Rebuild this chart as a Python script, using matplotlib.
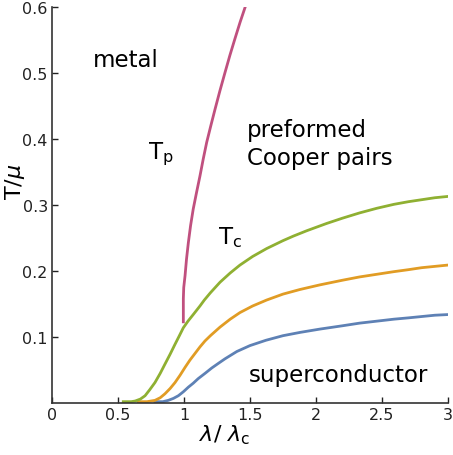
import matplotlib
matplotlib.use('Agg')
import matplotlib.pyplot as plt

# Tc curves (lambda/lambda_c, T/mu)
green_x = [0.54, 0.60, 0.63, 0.67, 0.705, 0.74, 0.78, 0.82, 0.856, 0.895, 0.932, 0.965, 0.995, 1.03, 1.07,
           1.121, 1.154, 1.20, 1.273, 1.35, 1.424, 1.52, 1.626, 1.75, 1.83, 1.93, 2.08, 2.2, 2.33, 2.46,
           2.59, 2.7, 2.8, 2.9, 3.0]
green_y = [0.002, 0.002, 0.003, 0.006, 0.011, 0.020, 0.031, 0.045, 0.059, 0.074, 0.089, 0.102, 0.114, 0.124, 0.134,
           0.147, 0.156, 0.167, 0.183, 0.197, 0.209, 0.222, 0.234, 0.246, 0.253, 0.261, 0.272, 0.280, 0.288, 0.295,
           0.301, 0.305, 0.308, 0.311, 0.313]

orange_x = [0.654, 0.72, 0.78, 0.82, 0.856, 0.895, 0.932, 0.97, 1.008, 1.045, 1.083, 1.121, 1.159, 1.20, 1.273,
            1.35, 1.424, 1.52, 1.626, 1.75, 1.879, 2.03, 2.2, 2.33, 2.46, 2.59, 2.7, 2.8, 2.9, 3.0]
orange_y = [0.002, 0.002, 0.004, 0.008, 0.014, 0.022, 0.031, 0.042, 0.054, 0.065, 0.075, 0.085, 0.094, 0.102, 0.115,
            0.127, 0.137, 0.147, 0.156, 0.165, 0.172, 0.179, 0.186, 0.191, 0.195, 0.199, 0.202, 0.205, 0.207, 0.209]

blue_x = [0.78, 0.84, 0.881, 0.92, 0.957, 0.995, 1.033, 1.07, 1.108, 1.16, 1.21, 1.26, 1.311, 1.40, 1.5,
          1.62, 1.75, 1.88, 2.03, 2.2, 2.33, 2.46, 2.59, 2.7, 2.8, 2.9, 3.0]
blue_y = [0.002, 0.002, 0.004, 0.007, 0.011, 0.017, 0.024, 0.030, 0.037, 0.045, 0.053, 0.060, 0.067, 0.078, 0.087,
          0.095, 0.102, 0.107, 0.112, 0.117, 0.121, 0.124, 0.127, 0.129, 0.131, 0.133, 0.134]

# pair formation temperature Tp
tp_x = [0.995, 0.995, 0.998, 1.008, 1.019, 1.033, 1.05, 1.07, 1.095, 1.121, 1.146, 1.172, 1.203, 1.235,
        1.272, 1.311, 1.348, 1.386, 1.425, 1.467]
tp_y = [0.123, 0.158, 0.175, 0.193, 0.218, 0.243, 0.269, 0.294, 0.319, 0.344, 0.370, 0.395, 0.420, 0.445,
        0.473, 0.501, 0.527, 0.552, 0.577, 0.602]

xticks = [0, 0.5, 1, 1.5, 2, 2.5, 3]
xticklabels = ['0', '0.5', '1', '1.5', '2', '2.5', '3']
yticks = [0.1, 0.2, 0.3, 0.4, 0.5, 0.6]
yticklabels = ['0.1', '0.2', '0.3', '0.4', '0.5', '0.6']

fig = plt.figure(figsize=(4.53, 4.56), dpi=100)
ax = fig.add_axes([52/453, 52/456, 396/453, 396/456])

ax.plot(blue_x, blue_y, color='#5e81b5', lw=2, solid_joinstyle='round')
ax.plot(orange_x, orange_y, color='#e19c24', lw=2, solid_joinstyle='round')
ax.plot(green_x, green_y, color='#8fb032', lw=2, solid_joinstyle='round')
ax.plot(tp_x, tp_y, color='#c0507f', lw=2, solid_joinstyle='round')

ax.set_xlim(0, 3)
ax.set_ylim(0, 0.6)
ax.set_xticks(xticks)
ax.set_xticklabels(xticklabels)
ax.set_yticks(yticks)
ax.set_yticklabels(yticklabels)
ax.tick_params(direction='in', length=4, width=1, labelsize=11.5, colors='#222222', pad=3)
for s in ['top', 'right']:
    ax.spines[s].set_visible(False)
for s in ['left', 'bottom']:
    ax.spines[s].set_color('#333333')
    ax.spines[s].set_linewidth(1.2)

ax.set_ylabel(r'T/$\mu$', fontsize=16)
ax.yaxis.set_label_coords(-0.063, 0.56)
ax.set_xlabel(r'$\lambda$/ $\lambda_{\rm c}$', fontsize=16)
ax.xaxis.set_label_coords(0.437, -0.05)

ax.text(0.56, 0.521, 'metal', fontsize=16.5, ha='center', va='center')
ax.text(0.727, 0.371, r'T$_{\rm p}$', fontsize=16.5, ha='left', va='baseline')
ax.text(1.477, 0.405, 'preformed', fontsize=16.5, ha='left', va='baseline')
ax.text(1.477, 0.362, 'Cooper pairs', fontsize=16.5, ha='left', va='baseline')
ax.text(1.258, 0.242, r'T$_{\rm c}$', fontsize=16.5, ha='left', va='baseline')
ax.text(2.174, 0.033, 'superconductor', fontsize=16.5, ha='center', va='baseline')

fig.savefig('out.png', dpi=100)
